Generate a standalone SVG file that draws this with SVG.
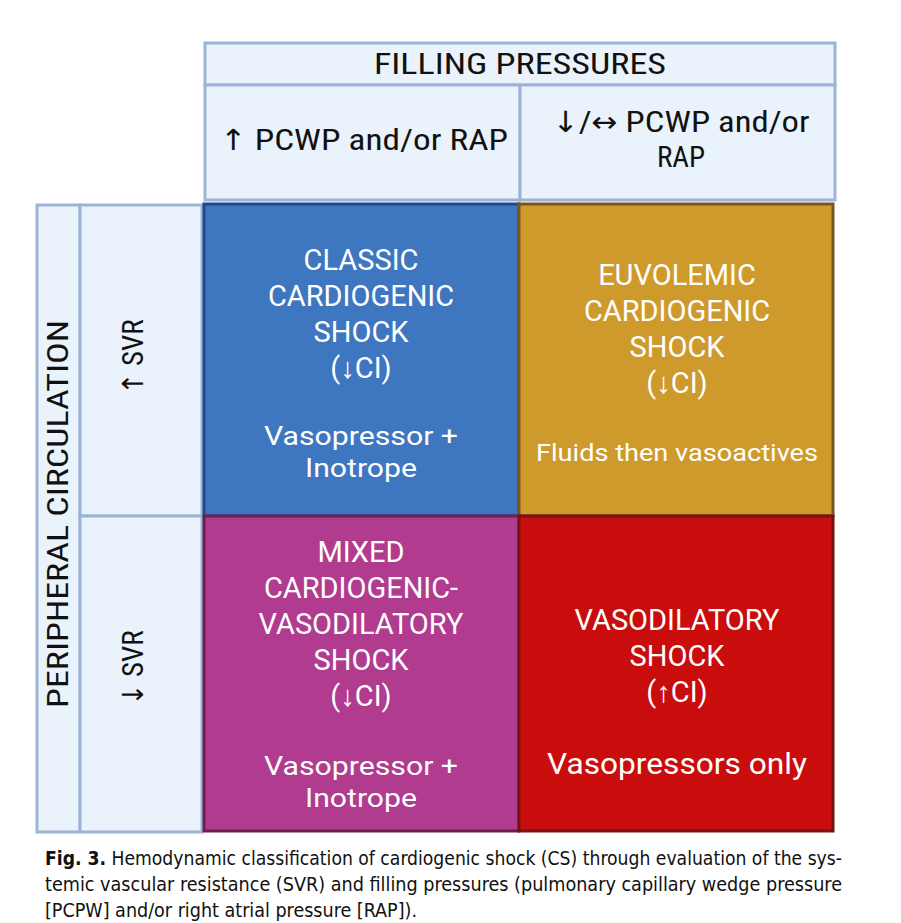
<svg xmlns="http://www.w3.org/2000/svg" width="901" height="923" viewBox="0 0 901 923">
<style>
.hdr{fill:#eaf2fb;stroke:#9db3d6;stroke-width:3}
.ht{font-family:"Roboto Condensed","Liberation Sans Narrow","DejaVu Sans Condensed",sans-serif;font-size:29px;fill:#111;text-anchor:middle}
.ct{font-family:Roboto,"Noto Sans",sans-serif;font-size:29px;fill:#fff;text-anchor:middle}
.sub{font-size:26px}
.cap{font-family:"Liberation Sans Narrow","DejaVu Sans Condensed",sans-serif;font-size:20px;fill:#111}
</style>
<rect width="901" height="923" fill="#fff"/>
<g id="header-filling">
<rect class="hdr" x="205" y="43" width="630" height="42"/>
<text class="ht" x="520" y="74" textLength="292" lengthAdjust="spacingAndGlyphs">FILLING PRESSURES</text>
</g>
<g id="header-high">
<rect class="hdr" x="205" y="85" width="315" height="115"/>
<text class="ht" x="364" y="150" textLength="288" lengthAdjust="spacingAndGlyphs">↑ PCWP and/or RAP</text>
</g>
<g id="header-low">
<rect class="hdr" x="520" y="85" width="315" height="115"/>
<text class="ht" x="681" y="132" textLength="257" lengthAdjust="spacingAndGlyphs">↓/↔ PCWP and/or</text>
<text class="ht" x="681" y="167">RAP</text>
</g>
<g id="peripheral">
<rect class="hdr" x="37" y="205" width="43" height="627"/>
<text class="ht" transform="translate(68,514) rotate(-90)" textLength="388" lengthAdjust="spacingAndGlyphs">PERIPHERAL CIRCULATION</text>
</g>
<g id="svr-high">
<rect class="hdr" x="80" y="205" width="122" height="311"/>
<text class="ht" transform="translate(143,357) rotate(-90)">↑ SVR</text>
</g>
<g id="svr-low">
<rect class="hdr" x="80" y="516" width="122" height="316"/>
<text class="ht" transform="translate(143,668) rotate(-90)">↓ SVR</text>
</g>
<g id="classic">
<rect x="204" y="204" width="315" height="312" fill="#3f76c0" stroke="#1f4a8a" stroke-width="3"/>
<text class="ct" x="361" y="270">CLASSIC</text>
<text class="ct" x="361" y="306">CARDIOGENIC</text>
<text class="ct" x="361" y="342">SHOCK</text>
<text class="ct" x="361" y="378">(↓CI)</text>
<text class="ct sub" x="361" y="445" textLength="194" lengthAdjust="spacingAndGlyphs">Vasopressor +</text>
<text class="ct sub" x="361" y="477" textLength="112" lengthAdjust="spacingAndGlyphs">Inotrope</text>
</g>
<g id="euvolemic">
<rect x="519" y="204" width="314" height="312" fill="#cf9a2c" stroke="#7a5520" stroke-width="3"/>
<text class="ct" x="677" y="285">EUVOLEMIC</text>
<text class="ct" x="677" y="321">CARDIOGENIC</text>
<text class="ct" x="677" y="357">SHOCK</text>
<text class="ct" x="677" y="393">(↓CI)</text>
<text class="ct" x="677" y="461" style="font-size:24px" textLength="282" lengthAdjust="spacingAndGlyphs">Fluids then vasoactives</text>
</g>
<g id="mixed">
<rect x="204" y="516" width="315" height="315" fill="#b03b8f" stroke="#6a2050" stroke-width="3"/>
<text class="ct" x="361" y="562">MIXED</text>
<text class="ct" x="361" y="598">CARDIOGENIC-</text>
<text class="ct" x="361" y="634">VASODILATORY</text>
<text class="ct" x="361" y="670">SHOCK</text>
<text class="ct" x="361" y="706">(↓CI)</text>
<text class="ct sub" x="361" y="775" textLength="194" lengthAdjust="spacingAndGlyphs">Vasopressor +</text>
<text class="ct sub" x="361" y="807" textLength="112" lengthAdjust="spacingAndGlyphs">Inotrope</text>
</g>
<g id="vasodilatory">
<rect x="519" y="516" width="314" height="315" fill="#c90c0c" stroke="#7a1010" stroke-width="3"/>
<text class="ct" x="677" y="630">VASODILATORY</text>
<text class="ct" x="677" y="666">SHOCK</text>
<text class="ct" x="677" y="702">(↑CI)</text>
<text class="ct" x="677" y="774" style="font-size:29px" textLength="260" lengthAdjust="spacingAndGlyphs">Vasopressors only</text>
</g>
<g id="connectors"></g>
<g id="caption">
<text class="cap" x="45" y="865" textLength="797" lengthAdjust="spacingAndGlyphs"><tspan font-weight="bold">Fig. 3.</tspan> Hemodynamic classification of cardiogenic shock (CS) through evaluation of the sys-</text>
<text class="cap" x="45" y="891" textLength="797" lengthAdjust="spacingAndGlyphs">temic vascular resistance (SVR) and filling pressures (pulmonary capillary wedge pressure</text>
<text class="cap" x="45" y="917" textLength="372" lengthAdjust="spacingAndGlyphs">[PCPW] and/or right atrial pressure [RAP]).</text>
</g>
</svg>
